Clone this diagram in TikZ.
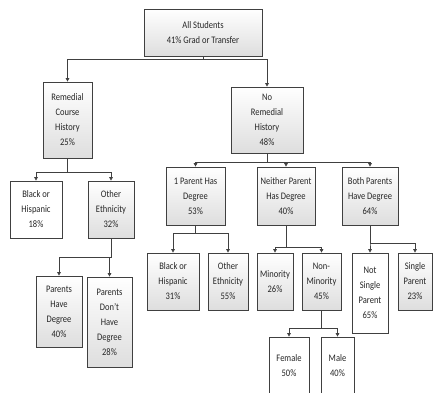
\documentclass[tikz,border=0pt]{standalone}
\usepackage{fontspec}
\setmainfont{Carlito}[FakeStretch=0.85]
\usetikzlibrary{arrows.meta,shadows}
\definecolor{ln}{HTML}{404040}
\tikzset{
  box/.style={draw=ln, line width=0.7pt, inner sep=0pt, align=center,
    font=\fontsize{10}{15}\selectfont, text=black!85,
    drop shadow={shadow xshift=0.8pt, shadow yshift=-0.8pt, fill=black!45, opacity=1}},
  grad/.style={box, top color=white, bottom color=black!13},
  plain/.style={box, fill=white},
  conn/.style={draw=ln, line width=0.7pt, -{Triangle[width=3.6pt,length=3.6pt]}},
}
\begin{document}
\begin{tikzpicture}[x=1pt, y=-1pt]
\clip (0,0) rectangle (433,392);
\fill[white] (0,0) rectangle (433,392);
\node[grad, minimum width=118pt, minimum height=47pt] (root) at (203,32.5) {All Students\\41\% Grad or Transfer};
\node[grad, minimum width=49pt, minimum height=76pt] (rem) at (67.5,120) {Remedial\\Course\\History\\25\%};
\node[grad, minimum width=72pt, minimum height=66pt] (norem) at (267,120) {No\\Remedial\\History\\48\%};
\node[plain, minimum width=52pt, minimum height=57pt] (bh1) at (36,209.5) {Black or\\Hispanic\\18\%};
\node[grad, minimum width=46pt, minimum height=57pt] (oe1) at (111,209.5) {Other\\Ethnicity\\32\%};
\node[grad, minimum width=46pt, minimum height=71pt] (phd) at (59,311.5) {Parents\\Have\\Degree\\40\%};
\node[grad, minimum width=45pt, minimum height=90pt] (pdh) at (109.5,322) {Parents\\Don’t\\Have\\Degree\\28\%};
\node[grad, minimum width=59pt, minimum height=58pt] (p1) at (195.5,196) {1 Parent Has\\Degree\\53\%};
\node[grad, minimum width=58pt, minimum height=58pt] (np) at (286,196) {Neither Parent\\Has Degree\\40\%};
\node[grad, minimum width=56pt, minimum height=58pt] (bp) at (370,196) {Both Parents\\Have Degree\\64\%};
\node[grad, minimum width=52pt, minimum height=57pt] (bh2) at (173,281.5) {Black or\\Hispanic\\31\%};
\node[grad, minimum width=40pt, minimum height=57pt] (oe2) at (228,281.5) {Other\\Ethnicity\\55\%};
\node[grad, minimum width=36pt, minimum height=57pt] (mino) at (275,281.5) {Minority\\26\%};
\node[grad, minimum width=39pt, minimum height=57pt] (nmin) at (321.5,281.5) {Non-\\Minority\\45\%};
\node[plain, minimum width=36pt, minimum height=80pt] (nsp) at (370,293) {Not\\Single\\Parent\\65\%};
\node[grad, minimum width=34pt, minimum height=57pt] (sp) at (415,281.5) {Single\\Parent\\23\%};
\node[plain, minimum width=40pt, minimum height=58pt] (fem) at (289,366) {Female\\50\%};
\node[plain, minimum width=33pt, minimum height=58pt] (male) at (337.5,366) {Male\\40\%};
\foreach \p/\c/\yy in {root/rem/59, root/norem/59, rem/bh1/172, rem/oe1/172,
  oe1/phd/257, oe1/pdh/257, norem/p1/162, norem/np/162, norem/bp/162,
  p1/bh2/233, p1/oe2/233, np/mino/247, np/nmin/247, bp/nsp/243, bp/sp/243,
  nmin/fem/328, nmin/male/328}{
  \path (0,\yy) coordinate (yb);
  \draw[conn] (\p.south) -- (\p.south |- yb) -| (\c.north);
}
\end{tikzpicture}
\end{document}
